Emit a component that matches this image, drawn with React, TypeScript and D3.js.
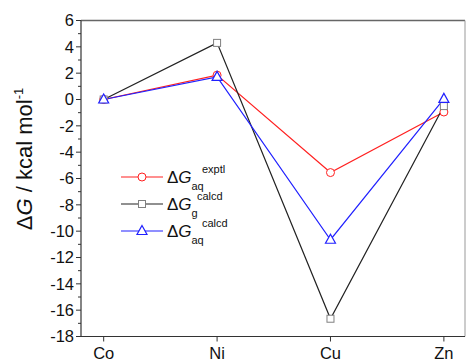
import React from "react";
import * as d3 from "d3";

const categories = ["Co", "Ni", "Cu", "Zn"];
const exptlAq = [0, 1.85, -5.55, -0.95];
const calcdG = [0, 4.3, -16.65, -0.5];
const calcdAq = [0, 1.72, -10.65, 0.05];
const yTicks = [6, 4, 2, 0, -2, -4, -6, -8, -10, -12, -14, -16, -18];

const W = 466, H = 363;
const m = { left: 81, top: 20.5, right: 465, bottom: 336.5 };

const series = [
  { name: "exptl", sub: "aq", sup: "exptl", values: exptlAq, color: "#ff2020", marker: "circle" },
  { name: "g", sub: "g", sup: "calcd", values: calcdG, color: "#222222", marker: "square" },
  { name: "aq", sub: "aq", sup: "calcd", values: calcdAq, color: "#2020ff", marker: "triangle" },
];

function Marker({ type, x, y, color }: { type: string; x: number; y: number; color: string }) {
  const mc = type === "square" ? "#808080" : color;
  if (type === "circle") return <circle cx={x} cy={y} r={4} fill="white" stroke={mc} strokeWidth={1} />;
  if (type === "square") return <rect x={x - 3.5} y={y - 3.5} width={7} height={7} fill="white" stroke={mc} strokeWidth={1} />;
  return <path d={`M${x},${y - 5.5}L${x + 5},${y + 3.5}L${x - 5},${y + 3.5}Z`} fill="white" stroke={mc} strokeWidth={1.2} />;
}

export default function App() {
  const x = d3.scaleLinear().domain([0.8, 4.2]).range([m.left, m.left + 3.4 * 113.4]);
  const y = d3.scaleLinear().domain([-18, 6]).range([m.bottom, m.top]);
  const line = d3.line<number>().x((_, i) => x(i + 1)).y((v) => y(v));
  const minor = d3.range(-17, 6, 2);
  const font = "Liberation Sans, Arial, sans-serif";
  return (
    <svg width={W} height={H} style={{ position: "absolute", left: 0, top: 0 }} fontFamily={font}>
      <rect x={0} y={0} width={W} height={H} fill="white" />
      <line x1={m.left} x2={m.right} y1={m.top} y2={m.top} stroke="#666" strokeWidth={1.5} />
      <line x1={m.right} x2={m.right} y1={m.top} y2={m.bottom} stroke="#999" strokeWidth={1} />
      <line x1={m.left} x2={m.right} y1={m.bottom} y2={m.bottom} stroke="#333" strokeWidth={1.2} />
      <line x1={m.left} x2={m.left} y1={m.top} y2={m.bottom} stroke="#333" strokeWidth={1.2} />
      {yTicks.map((t) => (
        <g key={t}>
          <line x1={m.left - 5} x2={m.left} y1={y(t)} y2={y(t)} stroke="#333" strokeWidth={1} />
          <text x={m.left - 7} y={y(t)} dy="0.36em" textAnchor="end" fontSize={16.5} fill="#111">
            {t}
          </text>
        </g>
      ))}
      {minor.map((t) => (
        <line key={t} x1={m.left - 3} x2={m.left} y1={y(t)} y2={y(t)} stroke="#333" strokeWidth={1} />
      ))}
      {categories.map((c, i) => (
        <g key={c}>
          <line x1={x(i + 1)} x2={x(i + 1)} y1={m.bottom} y2={m.bottom + 5} stroke="#333" strokeWidth={1} />
          <text x={x(i + 1)} y={m.bottom + 22} textAnchor="middle" fontSize={16.5} fill="#111">
            {c}
          </text>
        </g>
      ))}
      <text transform={`translate(32,159) rotate(-90)`} textAnchor="middle" fontSize={22} fill="#111">
        Δ<tspan fontStyle="italic">G</tspan> / kcal mol<tspan dy={-9} fontSize={13}>-1</tspan>
      </text>
      {series.map((s) => (
        <path key={s.name} d={line(s.values) || ""} fill="none" stroke={s.color} strokeWidth={1.2} />
      ))}
      {series.map((s) => (
        <g key={s.name + "m"}>
          {s.values.map((v, i) => (
            <Marker key={i} type={s.marker} x={x(i + 1)} y={y(v)} color={s.color} />
          ))}
        </g>
      ))}
      {series.map((s, k) => {
        const ly = 177 + k * 27;
        return (
          <g key={s.name + "l"}>
            <line x1={121} x2={163} y1={ly} y2={ly} stroke={s.color} strokeWidth={1.2} />
            <Marker type={s.marker} x={142} y={ly} color={s.color} />
            <text x={167} y={ly + 6} fontSize={17} fill="#111">
              Δ<tspan fontStyle="italic">G</tspan>
            </text>
            <text x={191.5} y={ly + 12.5} fontSize={11} fill="#111">{s.sub}</text>
            <text x={s.sub === "g" ? 197 : 202} y={ly - 4} fontSize={11} fill="#111">{s.sup}</text>
          </g>
        );
      })}
    </svg>
  );
}
